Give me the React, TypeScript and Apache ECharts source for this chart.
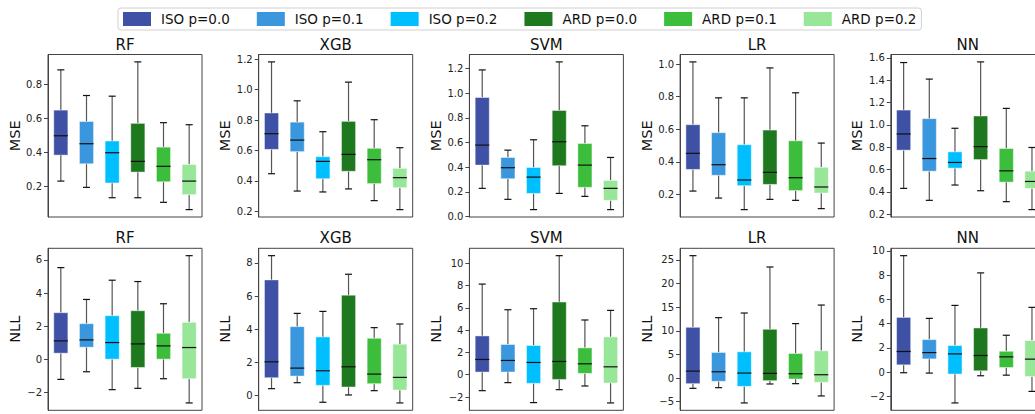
import React, { useEffect, useRef } from "react";
import * as echarts from "echarts";

const models = ["RF", "XGB", "SVM", "LR", "NN"];
const groups = ["ISO p=0.0", "ISO p=0.1", "ISO p=0.2", "ARD p=0.0", "ARD p=0.1", "ARD p=0.2"];
const colors = ["#3f51a5", "#3a96dd", "#00bfff", "#1e781e", "#3cbe3c", "#98e698"];

// each box: [min, Q1, median, Q3, max]
const mseRF = [
  [0.229, 0.382, 0.496, 0.647, 0.884],
  [0.192, 0.331, 0.449, 0.58, 0.733],
  [0.131, 0.218, 0.396, 0.465, 0.729],
  [0.131, 0.282, 0.345, 0.569, 0.931],
  [0.104, 0.225, 0.316, 0.429, 0.573],
  [0.061, 0.149, 0.229, 0.327, 0.561],
];
const mseXGB = [
  [0.447, 0.607, 0.71, 0.846, 1.182],
  [0.333, 0.592, 0.668, 0.786, 0.926],
  [0.327, 0.414, 0.528, 0.559, 0.723],
  [0.347, 0.463, 0.574, 0.791, 1.049],
  [0.27, 0.382, 0.539, 0.614, 0.802],
  [0.211, 0.355, 0.421, 0.482, 0.618],
];
const mseSVM = [
  [0.229, 0.417, 0.579, 0.964, 1.187],
  [0.14, 0.307, 0.396, 0.479, 0.538],
  [0.057, 0.188, 0.32, 0.398, 0.622],
  [0.188, 0.412, 0.606, 0.859, 1.252],
  [0.164, 0.237, 0.417, 0.592, 0.735],
  [0.057, 0.132, 0.229, 0.293, 0.479],
];
const mseLR = [
  [0.22, 0.353, 0.452, 0.628, 1.014],
  [0.177, 0.317, 0.382, 0.579, 0.793],
  [0.106, 0.253, 0.288, 0.505, 0.793],
  [0.169, 0.261, 0.335, 0.595, 0.977],
  [0.163, 0.223, 0.302, 0.529, 0.824],
  [0.112, 0.208, 0.245, 0.366, 0.515],
];
const mseNN = [
  [0.432, 0.774, 0.919, 1.133, 1.558],
  [0.325, 0.586, 0.699, 1.056, 1.41],
  [0.462, 0.613, 0.664, 0.759, 0.97],
  [0.411, 0.69, 0.806, 1.08, 1.564],
  [0.313, 0.488, 0.589, 0.789, 1.148],
  [0.242, 0.432, 0.494, 0.586, 0.798],
];
const nllRF = [
  [-1.2, 0.38, 1.12, 2.82, 5.54],
  [-0.74, 0.74, 1.18, 2.16, 3.62],
  [-1.82, 0.02, 1.02, 2.64, 4.78],
  [-1.74, -0.48, 0.94, 2.94, 4.7],
  [-1.16, 0.02, 0.82, 1.58, 3.36],
  [-2.62, -1.16, 0.72, 2.24, 6.26],
];
const nllXGB = [
  [0.42, 1.08, 2.04, 6.98, 8.44],
  [0.78, 1.18, 1.66, 4.16, 4.96],
  [-0.4, 0.62, 1.5, 3.54, 5.08],
  [0.04, 0.52, 1.74, 6.06, 7.32],
  [0.3, 0.72, 1.3, 3.46, 4.1],
  [-0.44, 0.34, 1.1, 3.1, 4.32],
];
const nllSVM = [
  [-1.43, 0.24, 1.37, 3.48, 8.13],
  [-0.71, 0.24, 1.28, 2.71, 5.83],
  [-2.5, -0.77, 1.1, 2.62, 5.92],
  [-1.34, -0.42, 1.19, 6.52, 10.68],
  [-1.01, 0.12, 0.98, 2.41, 4.91],
  [-2.53, -0.74, 0.71, 3.39, 5.77],
];
const nllLR = [
  [-2.18, -1.19, 1.47, 10.74, 25.9],
  [-2.04, -0.7, 1.33, 5.41, 12.78],
  [-5.27, -1.76, 1.05, 5.55, 13.76],
  [-1.26, -0.56, 0.98, 10.32, 23.5],
  [-1.19, -0.21, 0.91, 5.2, 11.52],
  [-3.79, -0.91, 0.7, 5.76, 15.45],
];
const nllNN = [
  [-0.05, 0.6, 1.7, 4.51, 9.6],
  [-0.08, 1.09, 1.61, 2.68, 4.43],
  [-2.54, -0.16, 1.5, 2.19, 5.5],
  [-0.3, 0.11, 1.37, 3.64, 8.18],
  [-0.25, 0.38, 1.26, 1.72, 3.04],
  [-1.59, -0.36, 1.07, 2.6, 5.34],
];

const mseTicks = [
  [0.2, 0.4, 0.6, 0.8],
  [0.2, 0.4, 0.6, 0.8, 1.0, 1.2],
  [0.0, 0.2, 0.4, 0.6, 0.8, 1.0, 1.2],
  [0.2, 0.4, 0.6, 0.8, 1.0],
  [0.2, 0.4, 0.6, 0.8, 1.0, 1.2, 1.4, 1.6],
];
const nllTicks = [
  [-2, 0, 2, 4, 6],
  [0, 2, 4, 6, 8],
  [-2, 0, 2, 4, 6, 8, 10],
  [-5, 0, 5, 10, 15, 20, 25],
  [-2, 0, 2, 4, 6, 8, 10],
];

const mseData = [mseRF, mseXGB, mseSVM, mseLR, mseNN];
const nllData = [nllRF, nllXGB, nllSVM, nllLR, nllNN];

const FONT = "DejaVu Sans";

function fmt(v: number, decimals: number) {
  const s = Math.abs(v).toFixed(decimals);
  return v < -1e-9 ? "\u2212" + s : s;
}

export default function App() {
  const ref = useRef<HTMLDivElement>(null);
  useEffect(() => {
    if (!ref.current) return;
    const chart = echarts.init(ref.current, undefined, { renderer: "svg" });
    const grids: any[] = [];
    const xAxes: any[] = [];
    const yAxes: any[] = [];
    const series: any[] = [];
    const graphics: any[] = [];
    const colLeft = (c: number) => 48 + c * 210.7;
    const rows = [
      { top: 54.5, height: 162.5, titleY: 45, data: mseData, ticks: mseTicks, name: "MSE", dec: 1 },
      { top: 248.3, height: 162, titleY: 238, data: nllData, ticks: nllTicks, name: "NLL", dec: 0 },
    ];
    rows.forEach((row, r) => {
      models.forEach((m, c) => {
        const gi = r * 5 + c;
        const boxes = row.data[c];
        let lo = Infinity;
        let hi = -Infinity;
        boxes.forEach((b) => {
          lo = Math.min(lo, b[0]);
          hi = Math.max(hi, b[4]);
        });
        const pad = (hi - lo) * 0.05;
        grids.push({
          left: colLeft(c),
          top: row.top,
          width: 154,
          height: row.height,
          show: true,
          borderColor: "#444",
          borderWidth: 1,
          backgroundColor: "transparent",
          containLabel: false,
          outerBoundsMode: "none",
        });
        xAxes.push({
          gridIndex: gi,
          type: "category",
          data: groups,
          axisLine: { show: false },
          axisTick: { show: false },
          axisLabel: { show: false },
          splitLine: { show: false },
        });
        const dec = row.dec;
        yAxes.push({
          gridIndex: gi,
          type: "value",
          min: lo - pad,
          max: hi + pad,
          axisLine: { show: true, lineStyle: { color: "#444", width: 1 } },
          axisTick: { show: true, length: 4, lineStyle: { color: "#444" }, customValues: row.ticks[c] },
          axisLabel: {
            fontSize: 10,
            color: "#222",
            margin: 6,
            fontFamily: FONT,
            customValues: row.ticks[c],
            formatter: (v: number) => fmt(v, dec),
          },
          splitLine: { show: false },
          name: row.name,
          nameLocation: "middle",
          nameGap: 26,
          nameTextStyle: { fontSize: 14.5, color: "#111", fontFamily: FONT },
        });
        graphics.push({
          type: "text",
          x: colLeft(c) + 77,
          y: row.titleY,
          style: {
            text: m,
            fontSize: 15,
            fontWeight: "normal",
            fontFamily: FONT,
            fill: "#111",
            textAlign: "center",
            textVerticalAlign: "middle",
          },
        });
        boxes.forEach((b, g) => {
          series.push({
            type: "custom",
            name: groups[g],
            xAxisIndex: gi,
            yAxisIndex: gi,
            itemStyle: { color: colors[g] },
            encode: { x: 0, y: [1, 2, 3, 4, 5] },
            data: [[g, b[0], b[1], b[2], b[3], b[4]]],
            renderItem: (params: any, api: any) => {
              const x = api.value(0);
              const pMin = api.coord([x, api.value(1)]);
              const pQ1 = api.coord([x, api.value(2)]);
              const pMed = api.coord([x, api.value(3)]);
              const pQ3 = api.coord([x, api.value(4)]);
              const pMax = api.coord([x, api.value(5)]);
              const band = api.size([1, 0])[0];
              const bw = band * 0.55;
              const cw = bw * 0.5;
              const cx = pMed[0];
              const whisk = { stroke: "#555", lineWidth: 1.2 };
              const cap = { stroke: "#111", lineWidth: 1.2 };
              return {
                type: "group",
                children: [
                  { type: "line", shape: { x1: cx, y1: pQ3[1], x2: cx, y2: pMax[1] }, style: whisk },
                  { type: "line", shape: { x1: cx, y1: pQ1[1], x2: cx, y2: pMin[1] }, style: whisk },
                  { type: "line", shape: { x1: cx - cw / 2, y1: pMax[1], x2: cx + cw / 2, y2: pMax[1] }, style: cap },
                  { type: "line", shape: { x1: cx - cw / 2, y1: pMin[1], x2: cx + cw / 2, y2: pMin[1] }, style: cap },
                  {
                    type: "rect",
                    shape: { x: cx - bw / 2, y: pQ3[1], width: bw, height: pQ1[1] - pQ3[1] },
                    style: { fill: colors[g], stroke: "rgba(255,255,255,0.45)", lineWidth: 1 },
                  },
                  { type: "line", shape: { x1: cx - bw / 2, y1: pMed[1], x2: cx + bw / 2, y2: pMed[1] }, style: cap },
                ],
              };
            },
          });
        });
      });
    });

    chart.setOption({
      animation: false,
      backgroundColor: "#ffffff",
      legend: {
        data: groups,
        left: 118,
        top: 8,
        padding: [4, 5, 4, 5],
        icon: "rect",
        itemWidth: 28,
        itemHeight: 14,
        itemGap: 27,
        borderColor: "#d0d0d0",
        borderWidth: 1,
        borderRadius: 3,
        textStyle: { fontSize: 13.5, fontFamily: FONT, color: "#111", padding: [0, 0, 0, 5] },
        selectedMode: false,
      },
      grid: grids,
      xAxis: xAxes,
      yAxis: yAxes,
      series,
      graphic: graphics,
    });
    return () => chart.dispose();
  }, []);
  return (
    <div
      ref={ref}
      style={{ position: "absolute", left: 0, top: 0, width: 1035, height: 414 }}
    />
  );
}
